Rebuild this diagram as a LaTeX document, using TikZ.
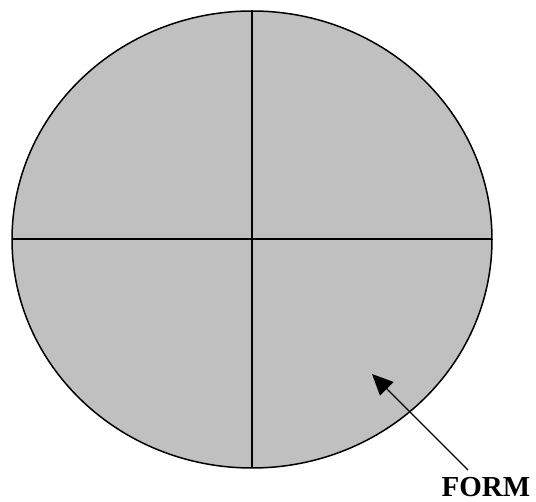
\documentclass[tikz,border=0pt]{standalone}
\usepackage{fontspec}
\setmainfont{Liberation Serif}
\usetikzlibrary{arrows.meta}
\definecolor{fillgray}{HTML}{C0C0C0}
\begin{document}
\begin{tikzpicture}[x=1pt,y=-1pt,
  outline/.style={line width=1.5pt, draw=black},
  label/.style={font=\bfseries\fontsize{29}{29}\selectfont, inner sep=0pt, anchor=base},
  rule/.style={line width=1.4pt}]
\useasboundingbox (0,0) rectangle (536,502);
\filldraw[outline, fill=fillgray] (252,239.5) ellipse [x radius=240, y radius=228.5];
\coordinate (top) at (252,11);
\coordinate (bot) at (252,468);
\coordinate (lft) at (12,239);
\coordinate (rgt) at (492,239);
\draw[rule] (top) -- (bot);
\draw[rule] (lft) -- (rgt);
\node[label] (form) at (486,497) {FORM};
\coordinate (tail) at (468,470);
\coordinate (tip) at (372,374);
\draw[rule, -{Triangle[length=21pt,width=19pt]}] (tail) -- (tip);
\end{tikzpicture}
\end{document}
